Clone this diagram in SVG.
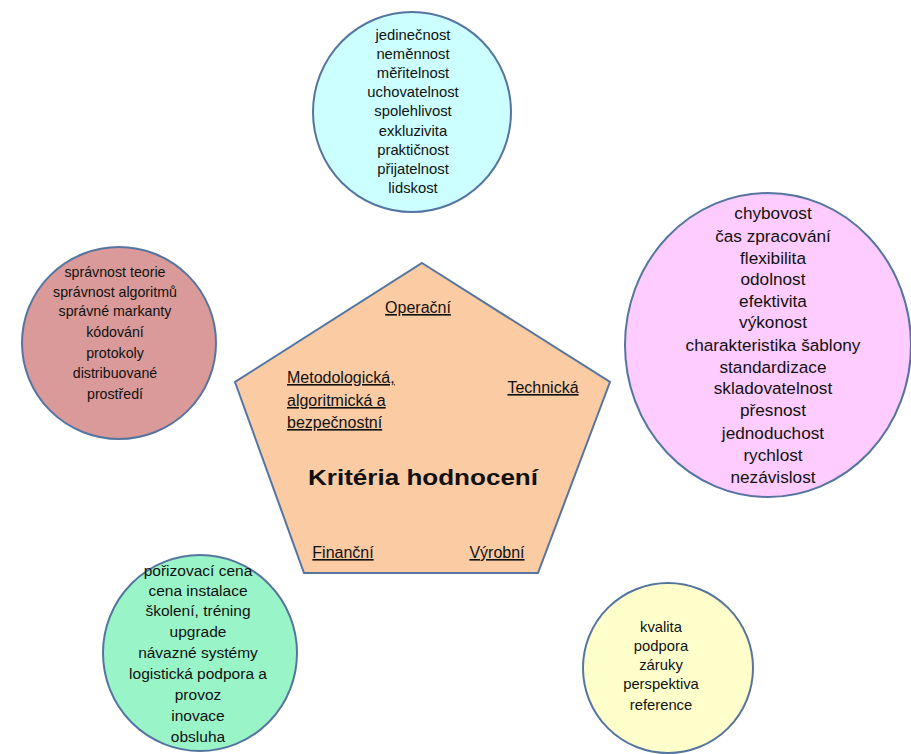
<svg xmlns="http://www.w3.org/2000/svg" width="911" height="754" viewBox="0 0 911 754">
<style>
.shape{stroke:#5575a0;stroke-width:2}
.t{font-family:"Liberation Sans","DejaVu Sans",sans-serif;fill:#111;text-anchor:middle}
.c{font-size:14.8px}
.r{font-size:14.2px}
.g{font-size:15.5px}
.y{font-size:14.8px}
.m{font-size:17.2px}
.u{font-family:"Liberation Sans","DejaVu Sans",sans-serif;fill:#111;font-size:16px;text-decoration:underline}
.title{font-family:"Liberation Sans","DejaVu Sans",sans-serif;fill:#111;font-size:22px;font-weight:bold;text-anchor:middle}
</style>
<rect width="911" height="754" fill="#ffffff"/>
<g id="connectors"></g>
<g id="center">
<polygon class="shape" fill="#fbcba4" points="422,263 610,382 538,573 304,573 235,382"/>
<text class="u" x="418" y="313" text-anchor="middle">Operační</text>
<text class="u" x="287" y="383">Metodologická,</text>
<text class="u" x="287" y="406">algoritmická a</text>
<text class="u" x="287" y="428">bezpečnostní</text>
<text class="u" x="543" y="393" text-anchor="middle">Technická</text>
<text class="title" x="423" y="485" textLength="230" lengthAdjust="spacingAndGlyphs">Kritéria hodnocení</text>
<text class="u" x="343" y="558" text-anchor="middle">Finanční</text>
<text class="u" x="497" y="558" text-anchor="middle">Výrobní</text>
</g>
<g id="operacni">
<ellipse class="shape" fill="#ccffff" cx="412" cy="112" rx="99" ry="100"/>
<text class="t c" x="413" y="40">jedinečnost</text>
<text class="t c" x="413" y="59">neměnnost</text>
<text class="t c" x="413" y="78">měřitelnost</text>
<text class="t c" x="413" y="97">uchovatelnost</text>
<text class="t c" x="413" y="116">spolehlivost</text>
<text class="t c" x="413" y="136">exkluzivita</text>
<text class="t c" x="413" y="155">praktičnost</text>
<text class="t c" x="413" y="174">přijatelnost</text>
<text class="t c" x="413" y="193">lidskost</text>
</g>
<g id="metodologicka">
<ellipse class="shape" fill="#d99a99" cx="119" cy="343" rx="97" ry="96"/>
<text class="t r" x="115" y="277">správnost teorie</text>
<text class="t r" x="115" y="297">správnost algoritmů</text>
<text class="t r" x="115" y="316">správné markanty</text>
<text class="t r" x="115" y="337">kódování</text>
<text class="t r" x="115" y="358">protokoly</text>
<text class="t r" x="115" y="378">distribuované</text>
<text class="t r" x="115" y="399">prostředí</text>
</g>
<g id="technicka">
<ellipse class="shape" fill="#ffccff" cx="768" cy="345" rx="143" ry="152"/>
<text class="t m" x="773" y="219">chybovost</text>
<text class="t m" x="773" y="242">čas zpracování</text>
<text class="t m" x="773" y="264">flexibilita</text>
<text class="t m" x="773" y="285">odolnost</text>
<text class="t m" x="773" y="307">efektivita</text>
<text class="t m" x="773" y="328">výkonost</text>
<text class="t m" x="773" y="351">charakteristika šablony</text>
<text class="t m" x="773" y="373">standardizace</text>
<text class="t m" x="773" y="394">skladovatelnost</text>
<text class="t m" x="773" y="416">přesnost</text>
<text class="t m" x="773" y="439">jednoduchost</text>
<text class="t m" x="773" y="461">rychlost</text>
<text class="t m" x="773" y="483">nezávislost</text>
</g>
<g id="financni">
<ellipse class="shape" fill="#99f5c8" cx="200" cy="653" rx="97" ry="98"/>
<text class="t g" x="198" y="576">pořizovací cena</text>
<text class="t g" x="198" y="596">cena instalace</text>
<text class="t g" x="198" y="616">školení, tréning</text>
<text class="t g" x="198" y="637">upgrade</text>
<text class="t g" x="198" y="658">návazné systémy</text>
<text class="t g" x="198" y="679">logistická podpora a</text>
<text class="t g" x="198" y="700">provoz</text>
<text class="t g" x="198" y="721">inovace</text>
<text class="t g" x="198" y="742">obsluha</text>
</g>
<g id="vyrobni">
<ellipse class="shape" fill="#ffffcc" cx="668" cy="668" rx="85" ry="85"/>
<text class="t y" x="661" y="632">kvalita</text>
<text class="t y" x="661" y="651">podpora</text>
<text class="t y" x="661" y="670">záruky</text>
<text class="t y" x="661" y="689">perspektiva</text>
<text class="t y" x="661" y="710">reference</text>
</g>
</svg>
